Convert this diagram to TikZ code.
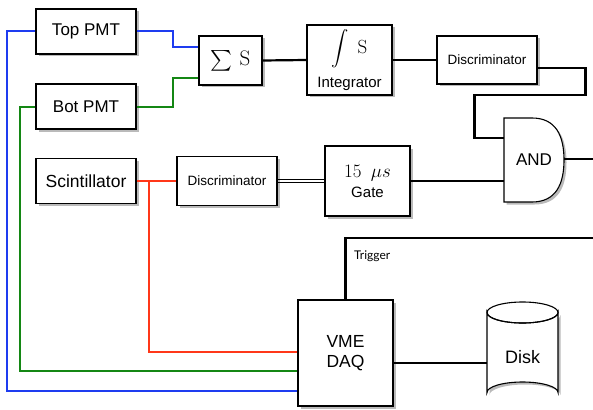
\RequirePackage{fix-cm}
\documentclass[tikz,border=0pt]{standalone}
\usepackage{amsmath}
\usepackage{exscale}
\usepackage[no-math]{fontspec}
\setmainfont{Liberation Sans}
\newfontfamily\trigfont{Lato}
\usetikzlibrary{shadows,calc}
\definecolor{wblue}{RGB}{30,60,240}
\definecolor{wgreen}{RGB}{20,135,20}
\definecolor{wred}{RGB}{255,55,25}
\tikzset{
  shadowed/.style={drop shadow={shadow xshift=2.5pt, shadow yshift=-2.5pt, fill=black!60, opacity=0.45}},
  box/.style={draw, line width=1.1pt, fill=white, shadowed, inner sep=0pt, align=center,
    font=\fontsize{17}{20}\selectfont},
  wire/.style={line width=2.2pt, line join=miter},
  cwire/.style={line width=2pt, line join=miter},
  thinwire/.style={line width=0.9pt},
}
\begin{document}
\begin{tikzpicture}[x=1pt,y=-1pt]
\useasboundingbox (0,0) rectangle (593,409);

% boxes
\node[box, minimum width=100pt, minimum height=45pt] (top) at (86,31.5) {Top PMT};
\node[box, minimum width=100pt, minimum height=45pt] (bot) at (86,106.5) {Bot PMT};
\node[box, minimum width=100pt, minimum height=45pt, font=\fontsize{17.5}{20}\selectfont] (scint) at (86,181) {Scintillator};
\node[box, minimum width=63pt, minimum height=49pt, font=\fontsize{21}{24}\selectfont] (sum) at (230.5,60.5) {$\sum\,\mathrm{S}$};
\node[box, minimum width=85pt, minimum height=70pt, font=\fontsize{19}{20}\selectfont] (integ) at (349.5,60)
  {$\displaystyle\int\;\mathrm{S}$\\[9pt]{\fontsize{15}{16}\selectfont Integrator}};
\node[box, minimum width=100pt, minimum height=48pt, font=\fontsize{13.5}{16}\selectfont] (disc1) at (487,60) {Discriminator};
\node[box, minimum width=100pt, minimum height=49pt, font=\fontsize{13.5}{16}\selectfont] (disc2) at (227,181) {Discriminator};
\node[box, minimum width=85pt, minimum height=70pt, font=\fontsize{19}{20}\selectfont] (gate) at (367.5,181)
  {$15\hspace{0.5em}\mu s$\\[0pt]{\fontsize{15}{16}\selectfont Gate}};
\node[box, minimum width=95pt, minimum height=106pt, font=\fontsize{17.5}{20}\selectfont] (vme) at (345.5,353) {VME\\DAQ};

% AND gate
\draw[line width=1.1pt, fill=white, shadowed] (504,118) -- (532,118)
  .. controls (556,118) and (564,136) .. (564,160)
  .. controls (564,184) and (556,202) .. (532,202) -- (504,202) -- cycle;
\node[inner sep=0pt, minimum width=60pt, minimum height=84pt, font=\fontsize{17}{20}\selectfont] (and) at (534,160) {AND};

% Disk cylinder
\path[fill=black!60, opacity=0.45] (489.5,315) -- (489.5,395) arc (180:360:35.5 and 10.5) -- (560.5,315) arc (0:180:35.5 and 10.5) -- cycle;
\draw[line width=1.1pt, fill=white] (487,312.5) -- (487,392.5) arc (180:360:35.5 and 10.5) -- (558,312.5) arc (0:180:35.5 and 10.5) -- cycle;
\draw[line width=1.1pt] (487,312.5) arc (180:-180:35.5 and 10.5);
\node[inner sep=0pt, minimum width=71pt, minimum height=90pt, font=\fontsize{18}{20}\selectfont] (disk) at (522.5,357) {Disk};

% PMT to sum
\draw[cwire, wblue] (top.east) -- ++(36,0) |- ([yshift=13.5pt]sum.west);
\draw[cwire, wgreen] (bot.east) -- ++(36,0) |- ([yshift=-17.5pt]sum.west);
% PMT to VME
\draw[cwire, wblue] (top.west) -- ++(-28,0) |- ([yshift=-38pt]vme.west);
\draw[cwire, wgreen] (bot.west) -- ++(-15,0) |- ([yshift=-18pt]vme.west);
% scintillator
\draw[cwire, wred] (scint.east) -- (disc2.west);
\coordinate (rb) at ($(scint.east)+(12,0)$);
\draw[cwire, wred] (rb) |- ([yshift=1pt]vme.west);

% chain
\draw[wire] (sum.east) -- (integ.west);
\draw[wire] (integ.east) -- (disc1.west);
\draw[wire] ([yshift=-8pt]disc1.east) -- ++(48,0) -- ++(0,27) -- ++(-111,0) |- ([yshift=22pt]and.west);
\draw[thinwire] ([yshift=1.1pt]disc2.east) -- ([yshift=1.1pt]gate.west);
\draw[thinwire] ([yshift=-1.1pt]disc2.east) -- ([yshift=-1.1pt]gate.west);
\draw[wire] (gate.east) -- ([yshift=-21pt]and.west);
\coordinate (andout) at (593,159);
\draw[wire] ([yshift=1pt]and.east) -- (andout);

% trigger
\coordinate (trigend) at (593,238);
\draw[wire] (vme.north) |- (trigend);
\node[anchor=west, inner sep=0pt, font=\trigfont\fontsize{12}{14}\selectfont] (triglabel) at (354,256) {Trigger};

% VME to disk
\draw[wire] ([yshift=-10pt]vme.east) -- ([yshift=-10pt]vme.east -| disk.west);
\end{tikzpicture}
\end{document}
